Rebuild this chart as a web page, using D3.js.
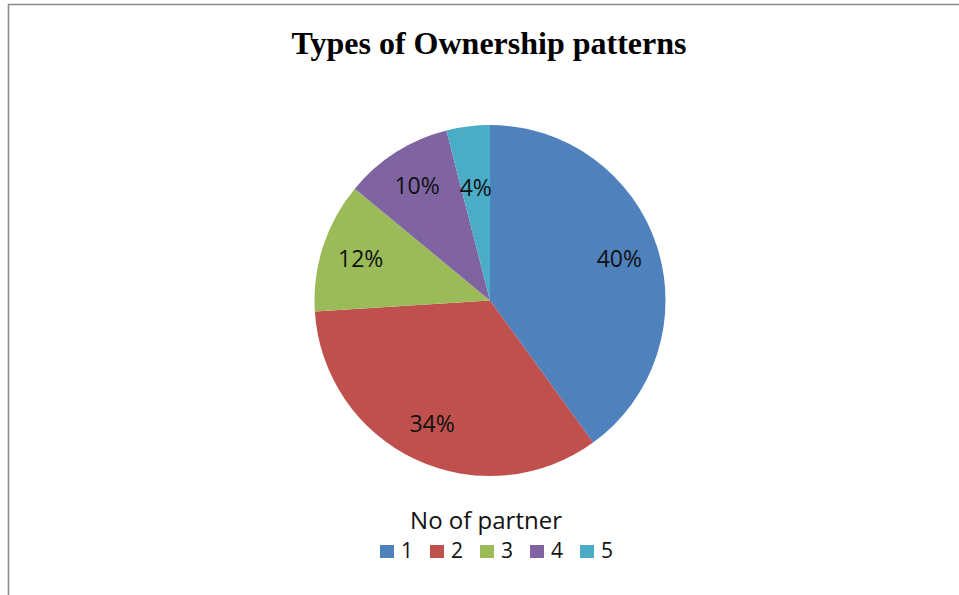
<!DOCTYPE html>
<html>
<head>
<meta charset="utf-8">
<script src="https://cdn.jsdelivr.net/npm/d3@7"></script>
<style>
  html, body { margin: 0; padding: 0; background: #fff; }
  svg { display: block; }
</style>
</head>
<body>
<svg id="chart" width="959" height="595"></svg>
<script>
const title = "Types of Ownership patterns";
const legendTitle = "No of partner";
const categories = ["1", "2", "3", "4", "5"];
const values = [40, 34, 12, 10, 4];
const colors = ["#4F81BD", "#C0504D", "#9BBB59", "#8064A2", "#4BACC6"];

const W = 959, H = 595;
const svg = d3.select("#chart");

// frame (top & left edges visible)
svg.append("path")
  .attr("d", `M8.5,${H} L8.5,4.5 L${W},4.5`)
  .attr("fill", "none")
  .attr("stroke", "#8a8a8a")
  .attr("stroke-width", 1.6);

svg.append("text")
  .attr("x", 489).attr("y", 54)
  .attr("text-anchor", "middle")
  .attr("font-family", "'Liberation Serif', 'Times New Roman', serif")
  .attr("font-weight", "bold")
  .attr("font-size", 32)
  .attr("fill", "#000")
  .text(title);

const cx = 490, cy = 300.5, R = 175.5;
const pie = d3.pie().sort(null).value(d => d)(values);
const arc = d3.arc().innerRadius(0).outerRadius(R);
const g = svg.append("g").attr("transform", `translate(${cx},${cy})`);

g.selectAll("path.slice").data(pie).enter().append("path")
  .attr("class", "slice")
  .attr("d", arc)
  .attr("fill", (d, i) => colors[i]);

const total = d3.sum(values);
const labelR = i => (values[i] / total < 0.06 ? 114 : 136);
g.selectAll("text.lbl").data(pie).enter().append("text")
  .attr("class", "lbl")
  .attr("transform", (d, i) => {
    const a = d3.arc().innerRadius(labelR(i)).outerRadius(labelR(i));
    const c = a.centroid(d);
    return `translate(${c[0]},${c[1]})`;
  })
  .attr("text-anchor", "middle")
  .attr("dy", "0.36em")
  .attr("font-family", "'Open Sans', sans-serif")
  .attr("font-size", 23)
  .attr("fill", "#111")
  .text(d => Math.round(d.data / total * 100) + "%");

// legend
svg.append("text")
  .attr("x", 486).attr("y", 529)
  .attr("text-anchor", "middle")
  .attr("font-family", "'Open Sans', sans-serif")
  .attr("font-size", 24)
  .attr("fill", "#111")
  .text(legendTitle);

const lx = d3.scalePoint().domain(categories).range([380, 580]);
const lg = svg.selectAll("g.leg").data(categories).enter().append("g")
  .attr("class", "leg")
  .attr("transform", d => `translate(${lx(d)},0)`);
lg.append("rect")
  .attr("x", 0).attr("y", 545)
  .attr("width", 14).attr("height", 13)
  .attr("fill", (d, i) => colors[i]);
lg.append("text")
  .attr("x", 21).attr("y", 558)
  .attr("font-family", "'Open Sans', sans-serif")
  .attr("font-size", 21)
  .attr("fill", "#111")
  .text(d => d);
</script>
</body>
</html>
